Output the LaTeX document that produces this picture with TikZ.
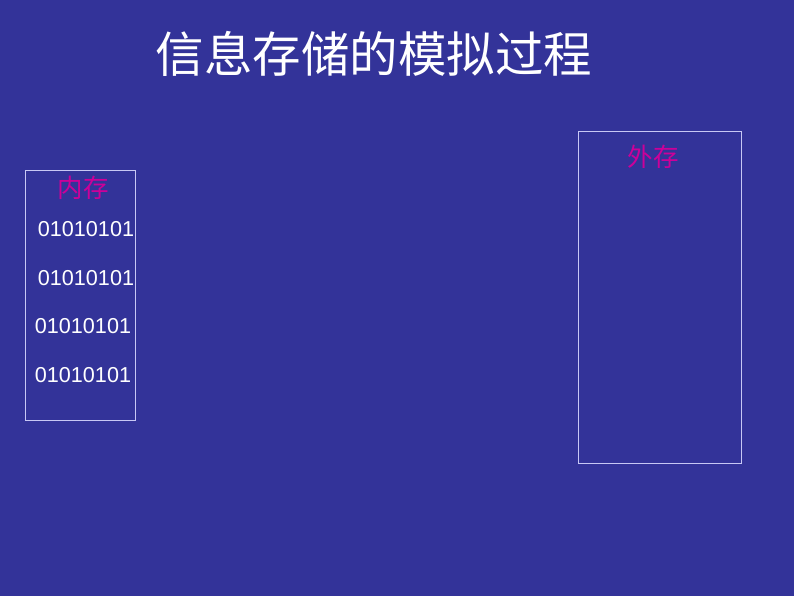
\documentclass[tikz,border=0pt]{standalone}
\usepackage{fontspec}
\setmainfont{Liberation Sans}
\newfontfamily\cjk{Noto Sans CJK SC}
\usepackage{tikz}
\usetikzlibrary{positioning}

\definecolor{slidebg}{RGB}{51,51,153}
\definecolor{memred}{RGB}{204,0,153}
\definecolor{framecol}{RGB}{200,200,245}

\begin{document}
\begin{tikzpicture}[x=1pt, y=-1pt,
        membox/.style={draw=framecol, line width=0.9pt},
        memlabel/.style={text=memred, inner sep=0pt, font=\cjk\fontsize{25.5}{26}\selectfont},
        bits/.style={text=white, inner sep=0pt, font=\fontsize{21.6}{22}\selectfont}]
        \fill[slidebg] (0,0) rectangle (794,596);
        \useasboundingbox (0,0) rectangle (794,596);
        \node[text=white, inner sep=0pt, font=\cjk\fontsize{48.5}{49}\selectfont] (title) at (374,54) {信息存储的模拟过程};

        % internal memory
        \draw[membox] (25,170) rectangle (135,420);
        \node[memlabel] (inmem) at (83,188) {内存};
        \node[bits] (b1) at (86,229) {01010101};
        \node[bits] (b2) at (86,278) {01010101};
        \node[bits] (b3) at (83,326) {01010101};
        \node[bits] (b4) at (83,375) {01010101};

        % external memory
        \draw[membox] (578,131) rectangle (741,463);
        \node[memlabel] (outmem) at (653,157) {外存};
    \end{tikzpicture}
\end{document}
